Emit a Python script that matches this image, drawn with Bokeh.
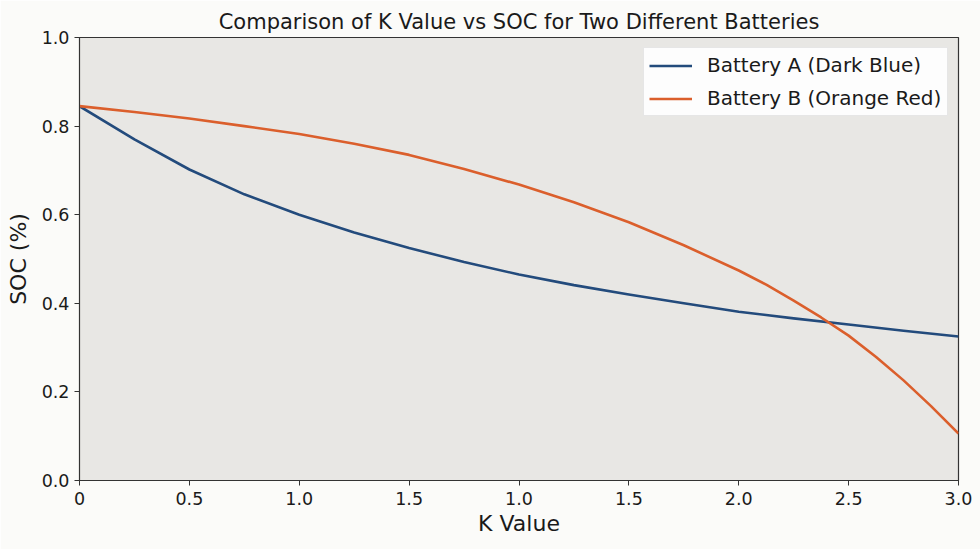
from bokeh.plotting import figure
from bokeh.models import Range1d, FixedTicker, Legend, LegendItem
from bokeh.embed import file_html
from bokeh.resources import INLINE

# Tick positions and their labels as printed on the reference x axis
x_ticks = [0, 0.5, 1.0, 1.5, 2.0, 2.5, 3.0, 3.5, 4.0]
x_tick_labels = ["0", "0.5", "1.0", "1.5", "1.0", "1.5", "2.0", "2.5", "3.0"]
y_ticks = [0.0, 0.2, 0.4, 0.6, 0.8, 1.0]
y_tick_labels = ["0.0", "0.2", "0.4", "0.6", "0.8", "1.0"]

# Battery A samples (positions in tick units)
k_a = [0, 0.25, 0.5, 0.75, 1.0, 1.25, 1.5, 1.75, 2.0, 2.25, 2.5, 2.75,
       3.0, 3.25, 3.5, 3.75, 4.0]
battery_a = [0.845, 0.770, 0.702, 0.646, 0.600, 0.560, 0.525, 0.493, 0.465,
             0.441, 0.420, 0.400, 0.381, 0.366, 0.352, 0.338, 0.325]

# Battery B samples (denser where the curve bends)
k_b = [0, 0.25, 0.5, 0.75, 1.0, 1.25, 1.5, 1.75, 2.0, 2.25, 2.5, 2.75,
       3.0, 3.125, 3.25, 3.375, 3.5, 3.625, 3.75, 3.875, 4.0]
battery_b = [0.845, 0.832, 0.817, 0.800, 0.782, 0.760, 0.735, 0.703, 0.668,
             0.628, 0.583, 0.531, 0.474, 0.442, 0.406, 0.368, 0.327, 0.279,
             0.226, 0.168, 0.106]

FONT = "DejaVu Sans"

p = figure(width=980, height=549, output_backend="svg", toolbar_location=None,
           x_range=Range1d(0, 4), y_range=Range1d(0, 1),
           title="Comparison of K Value vs SOC for Two Different Batteries")

p.min_border_left = 79
p.min_border_right = 22
p.min_border_top = 37
p.min_border_bottom = 69

p.background_fill_color = "#e8e7e4"
p.border_fill_color = "#fbfbf9"
p.outline_line_color = "#333333"
p.outline_line_width = 1.2
p.grid.visible = False

p.title.text_font = FONT
p.title.text_font_size = "21px"
p.title.text_font_style = "normal"
p.title.text_color = "#1a1a1a"
p.title.align = "center"
p.title.offset = 0
p.title.standoff = 8

p.xaxis.ticker = FixedTicker(ticks=x_ticks)
p.xaxis.major_label_overrides = {t: l for t, l in zip(x_ticks, x_tick_labels)}
p.yaxis.ticker = FixedTicker(ticks=y_ticks)
p.yaxis.major_label_overrides = {t: l for t, l in zip(y_ticks, y_tick_labels)}

p.xaxis.axis_label = "K Value"
p.yaxis.axis_label = "SOC (%)"
for ax in (p.xaxis, p.yaxis):
    ax.axis_label_text_font = FONT
    ax.axis_label_text_font_size = "22px"
    ax.axis_label_text_font_style = "normal"
    ax.axis_label_text_color = "#1a1a1a"
    ax.major_label_text_font = FONT
    ax.major_label_text_font_size = "17.5px"
    ax.major_label_text_color = "#1a1a1a"
    ax.axis_line_color = "#333333"
    ax.major_tick_line_color = "#333333"
    ax.major_tick_out = 5
    ax.major_tick_in = 0
    ax.minor_tick_line_color = None
p.xaxis.major_label_standoff = 6
p.yaxis.major_label_standoff = 5
p.xaxis.axis_label_standoff = 3
p.yaxis.axis_label_standoff = 8

ra = p.line(k_a, battery_a, line_color="#234b7c", line_width=2.6,
            line_join="round")
rb = p.line(k_b, battery_b, line_color="#db5f2c", line_width=2.6,
            line_join="round")

legend = Legend(items=[LegendItem(label="Battery A (Dark Blue)", renderers=[ra]),
                       LegendItem(label="Battery B (Orange Red)", renderers=[rb])],
                location="top_right")
legend.label_text_font = FONT
legend.label_text_font_size = "20px"
legend.label_text_color = "#1a1a1a"
legend.background_fill_color = "white"
legend.background_fill_alpha = 0.9
legend.border_line_color = "#d0d0d0"
legend.margin = 10
legend.padding = 5
legend.spacing = 9
legend.glyph_width = 43
legend.glyph_height = 23
legend.label_height = 23
legend.label_width = 235
legend.label_standoff = 15
p.add_layout(legend)

open("out.html", "w").write(file_html(p, INLINE))
